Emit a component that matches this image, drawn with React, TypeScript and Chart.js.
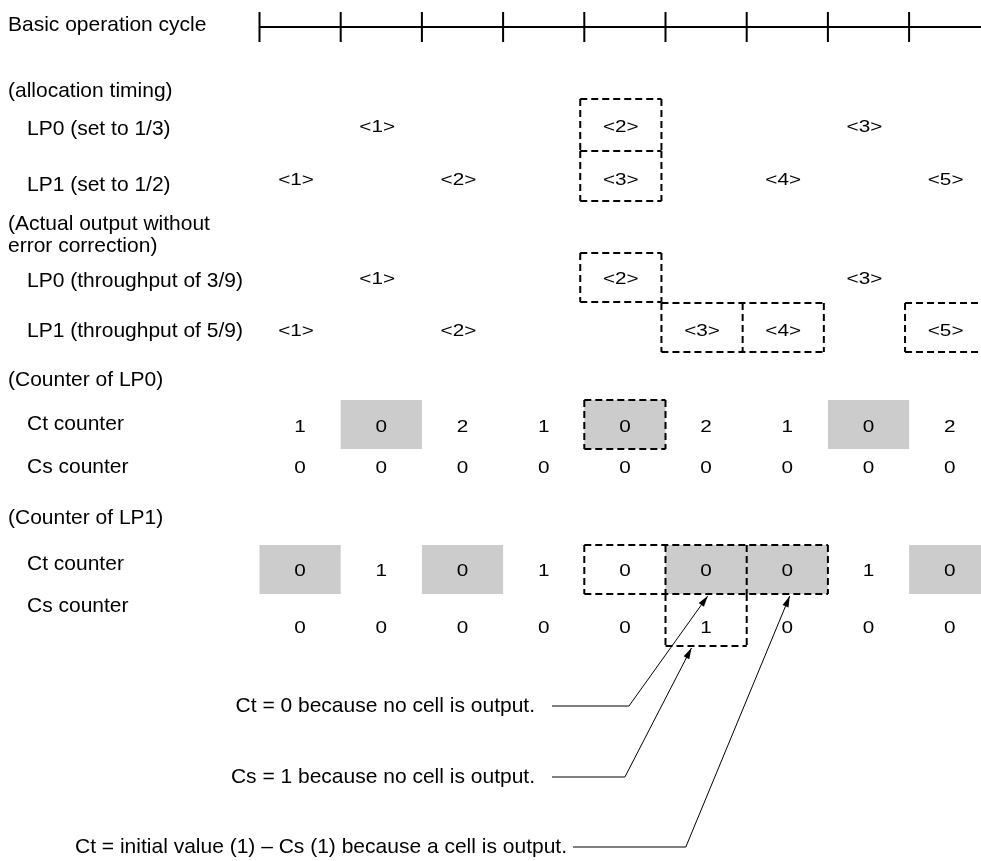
import React, { useEffect, useRef } from "react";
import { Chart, registerables } from "chart.js";
Chart.register(...registerables);

// ---- data ----
const cycleTicks = [0, 1, 2, 3, 4, 5, 6, 7, 8];
const allocLP0 = ["", "<1>", "", "", "<2>", "", "", "<3>", ""];
const allocLP1 = ["<1>", "", "<2>", "", "<3>", "", "<4>", "", "<5>"];
const outLP0 = ["", "<1>", "", "", "<2>", "", "", "<3>", ""];
const outLP1 = ["<1>", "", "<2>", "", "", "<3>", "<4>", "", "<5>"];
const lp0Ct = [1, 0, 2, 1, 0, 2, 1, 0, 2];
const lp0Cs = [0, 0, 0, 0, 0, 0, 0, 0, 0];
const lp1Ct = [0, 1, 0, 1, 0, 0, 0, 1, 0];
const lp1Cs = [0, 0, 0, 0, 0, 1, 0, 0, 0];
const lp0CtShaded = [1, 4, 7];
const lp1CtShaded = [0, 2, 5, 6, 8];
const allocDashedLP0 = [4];
const allocDashedLP1 = [4];
const outDashedLP0 = [4];
const outDashedLP1 = [5, 6, 8];
const lp0CtDashed = [4];
const lp1CtDashed = [4, 5, 6];
const lp1CsDashed = [5];

const sectionLabels = [
  "Basic operation cycle",
  "(allocation timing)",
  "(Actual output without",
  "error correction)",
  "(Counter of LP0)",
  "(Counter of LP1)",
];
const rowLabels = [
  "LP0 (set to 1/3)",
  "LP1 (set to 1/2)",
  "LP0 (throughput of 3/9)",
  "LP1 (throughput of 5/9)",
  "Ct counter",
  "Cs counter",
  "Ct counter",
  "Cs counter",
];
const notes = [
  "Ct = 0 because no cell is output.",
  "Cs = 1 because no cell is output.",
  "Ct = initial value (1) \u2013 Cs (1) because a cell is output.",
];

// ---- layout (pixels on the y scale, column units on the x scale) ----
const SECTION_Y = [25, 91, 224, 246, 380, 518];
const ROWLABEL_Y = [129, 185, 281, 331, 424, 467, 564, 606];
const Y = {
  cycle: 27, tickTop: 12, tickBot: 42,
  allocLP0: 127, allocLP1: 180,
  outLP0: 279, outLP1: 331,
  lp0Ct: 427, lp0Cs: 468, lp1Ct: 571, lp1Cs: 628,
};
const BAND = {
  allocLP0: [99, 151], allocLP1: [151, 201],
  outLP0: [253, 302], outLP1: [303, 352],
  lp0Ct: [400, 449], lp1Ct: [545, 594], lp1Cs: [594, 646],
};
const NOTE_Y = [706, 777, 847];
const NOTE_RIGHT = [535, 535, 567];
const LEADER_START = [552, 552, 573];
const KNEE_COL = [4.55, 4.50, 5.25];
const TIP_COL = [5.52, 5.32, 6.53];
const TIP_Y = [596, 648, 596];
const UPPER_SHIFT = -0.05;
const FONT = "21px 'Liberation Sans', Arial, Helvetica, sans-serif";
const CELL_FONT = "17px 'Liberation Sans', Arial, Helvetica, sans-serif";
const CELL_STRETCH = 1.22;
const GREY = "#cccccc";

const diagramPlugin = {
  id: "diagram",
  afterDraw(chart: any) {
    const ctx: CanvasRenderingContext2D = chart.ctx;
    const xs = chart.scales.x;
    const ys = chart.scales.y;
    const px = (v: number) => xs.getPixelForValue(v);
    const py = (v: number) => ys.getPixelForValue(v);
    ctx.save();
    ctx.fillStyle = "#000";
    ctx.strokeStyle = "#000";
    ctx.font = FONT;
    ctx.textBaseline = "middle";

    // left labels
    ctx.textAlign = "left";
    sectionLabels.forEach((t, i) => ctx.fillText(t, 8, py(SECTION_Y[i])));
    rowLabels.forEach((t, i) => ctx.fillText(t, 27, py(ROWLABEL_Y[i])));

    // cycle axis
    ctx.lineWidth = 2;
    ctx.beginPath();
    ctx.moveTo(px(cycleTicks[0]), py(Y.cycle));
    ctx.lineTo(chart.width + 2, py(Y.cycle));
    cycleTicks.forEach((c) => {
      ctx.moveTo(px(c), py(Y.tickTop));
      ctx.lineTo(px(c), py(Y.tickBot));
    });
    ctx.stroke();

    // grey shading
    const shade = (cols: number[], band: number[]) => {
      ctx.fillStyle = GREY;
      cols.forEach((c) => {
        const x0 = px(c), x1 = px(c + 1);
        ctx.fillRect(x0, py(band[0]), x1 - x0, py(band[1]) - py(band[0]));
      });
      ctx.fillStyle = "#000";
    };
    shade(lp0CtShaded, BAND.lp0Ct);
    shade(lp1CtShaded, BAND.lp1Ct);

    // dashed boxes: consecutive columns merge into one outline with dashed dividers
    const seg = (x0: number, y0: number, x1: number, y1: number) => {
      ctx.beginPath();
      ctx.moveTo(x0, y0);
      ctx.lineTo(x1, y1);
      ctx.stroke();
    };
    const dashed = (cols: number[], band: number[], shift: number, skipTop = false) => {
      ctx.save();
      ctx.lineWidth = 2;
      ctx.setLineDash([7, 4]);
      const runs: number[][] = [];
      cols.forEach((c) => {
        const last = runs[runs.length - 1];
        if (last && last[last.length - 1] === c - 1) last.push(c);
        else runs.push([c]);
      });
      const top = py(band[0]), bot = py(band[1]);
      runs.forEach((r) => {
        const x0 = px(r[0] + shift), x1 = px(r[r.length - 1] + 1 + shift);
        if (!skipTop) seg(x0, top, x1, top);
        seg(x0, bot, x1, bot);
        seg(x0, top, x0, bot);
        seg(x1, top, x1, bot);
        for (let k = 1; k < r.length; k++) {
          const xd = px(r[k] + shift);
          seg(xd, top, xd, bot);
        }
      });
      ctx.restore();
    };
    dashed(allocDashedLP0, BAND.allocLP0, UPPER_SHIFT);
    dashed(allocDashedLP1, BAND.allocLP1, UPPER_SHIFT, true);
    dashed(outDashedLP0, BAND.outLP0, UPPER_SHIFT);
    dashed(outDashedLP1, BAND.outLP1, UPPER_SHIFT);
    dashed(lp0CtDashed, BAND.lp0Ct, 0);
    dashed(lp1CtDashed, BAND.lp1Ct, 0);
    dashed(lp1CsDashed, BAND.lp1Cs, 0, true);

    // cell texts (slightly wide lettering)
    ctx.font = CELL_FONT;
    ctx.textAlign = "center";
    const row = (vals: (string | number)[], y: number, shift: number) => {
      vals.forEach((v, i) => {
        const s = String(v);
        if (s === "") return;
        ctx.save();
        ctx.translate(px(i + 0.5 + shift), py(y));
        ctx.scale(CELL_STRETCH, 1);
        ctx.fillText(s, 0, 0);
        ctx.restore();
      });
    };
    row(allocLP0, Y.allocLP0, UPPER_SHIFT);
    row(allocLP1, Y.allocLP1, UPPER_SHIFT);
    row(outLP0, Y.outLP0, UPPER_SHIFT);
    row(outLP1, Y.outLP1, UPPER_SHIFT);
    row(lp0Ct, Y.lp0Ct, 0);
    row(lp0Cs, Y.lp0Cs, 0);
    row(lp1Ct, Y.lp1Ct, 0);
    row(lp1Cs, Y.lp1Cs, 0);

    // notes with leader arrows
    ctx.font = FONT;
    ctx.textAlign = "right";
    notes.forEach((t, i) => {
      const y = py(NOTE_Y[i]);
      ctx.fillText(t, NOTE_RIGHT[i], y);
      const kx = px(KNEE_COL[i]);
      const tx = px(TIP_COL[i]);
      const ty = py(TIP_Y[i]);
      ctx.lineWidth = 1;
      ctx.beginPath();
      ctx.moveTo(LEADER_START[i], y);
      ctx.lineTo(kx, y);
      ctx.lineTo(tx, ty);
      ctx.stroke();
      const ang = Math.atan2(ty - y, tx - kx);
      const L = 11, W = 3.2;
      ctx.beginPath();
      ctx.moveTo(tx, ty);
      ctx.lineTo(tx - L * Math.cos(ang) + W * Math.sin(ang), ty - L * Math.sin(ang) - W * Math.cos(ang));
      ctx.lineTo(tx - L * Math.cos(ang) - W * Math.sin(ang), ty - L * Math.sin(ang) + W * Math.cos(ang));
      ctx.closePath();
      ctx.fill();
    });
    ctx.restore();
  },
};

export default function App() {
  const ref = useRef<HTMLCanvasElement | null>(null);
  useEffect(() => {
    if (!ref.current) return;
    const chart = new Chart(ref.current, {
      type: "scatter",
      data: { datasets: [{ data: [], pointRadius: 0 }] },
      options: {
        animation: false,
        responsive: true,
        maintainAspectRatio: false,
        layout: { padding: { left: 259.5, right: 0, top: 0, bottom: 0 } },
        plugins: { legend: { display: false }, tooltip: { enabled: false } },
        scales: {
          x: { type: "linear", min: 0, max: (981 - 259.5) / 81.2, display: false },
          y: { type: "linear", min: 0, max: 861, reverse: true, display: false },
        },
      },
      plugins: [diagramPlugin],
    });
    return () => chart.destroy();
  }, []);
  return (
    <div style={{ position: "fixed", left: 0, top: 0, width: 981, height: 861, background: "#fff" }}>
      <canvas ref={ref} />
    </div>
  );
}
